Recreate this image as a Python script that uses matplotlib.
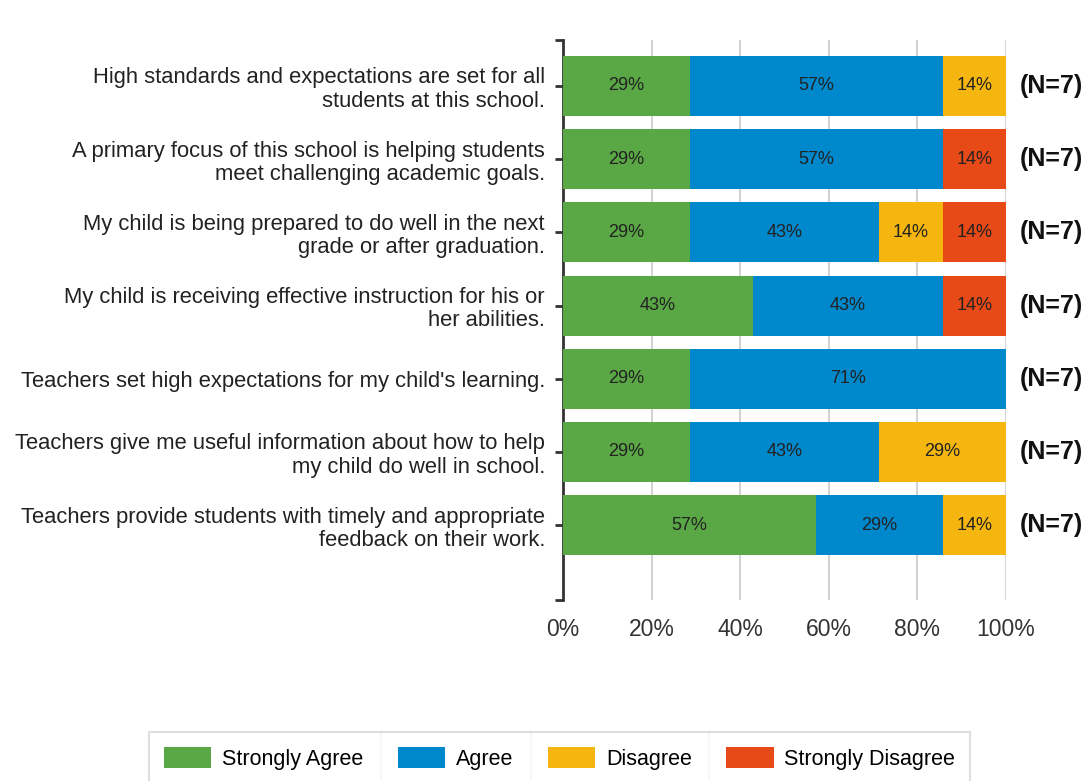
import numpy as np
import matplotlib.pyplot as plt
from matplotlib.lines import Line2D

#%% data

questions = [
    "High standards and expectations are set for all\nstudents at this school.",
    "A primary focus of this school is helping students\nmeet challenging academic goals.",
    "My child is being prepared to do well in the next\ngrade or after graduation.",
    "My child is receiving effective instruction for his or\nher abilities.",
    "Teachers set high expectations for my child's learning.",
    "Teachers give me useful information about how to help\nmy child do well in school.",
    "Teachers provide students with timely and appropriate\nfeedback on their work.",
]
categories = ["Strongly Agree", "Agree", "Disagree", "Strongly Disagree"]
colors = ["#5aa745", "#0088cc", "#f5b70f", "#e84a17"]

# counts of responses per question
strongly_agree = [2, 2, 2, 3, 2, 2, 4]
agree = [4, 4, 3, 3, 5, 3, 2]
disagree = [1, 0, 1, 0, 0, 2, 1]
strongly_disagree = [0, 1, 1, 1, 0, 0, 0]
n_resp = [7, 7, 7, 7, 7, 7, 7]

counts = np.array([strongly_agree, agree, disagree, strongly_disagree], dtype=float)
pct = counts / np.array(n_resp) * 100

#%% plot

plt.rcParams['font.family'] = ['Liberation Sans', 'DejaVu Sans']

fig = plt.figure(figsize=(10.91, 7.81), dpi=100)
ax = fig.add_axes([0.516, 0.232, 0.406, 0.717])

y = np.arange(len(questions))
left = np.zeros(len(questions))
for i, cat in enumerate(categories):
    ax.barh(y, pct[i], left=left, height=0.82, color=colors[i], label=cat, zorder=3)
    for j in range(len(questions)):
        if pct[i, j] > 0:
            ax.text(left[j] + pct[i, j] / 2, y[j], "%d%%" % round(pct[i, j]),
                    ha="center", va="center", fontsize=13, color="#222222", zorder=4)
    left += pct[i]

for j in range(len(questions)):
    ax.text(103.2, y[j], "(N=%d)" % n_resp[j], ha="left", va="center",
            fontsize=18, fontweight="bold", color="#111111", clip_on=False)

ax.set_xlim(0, 100)
ax.set_ylim(7.02, -0.63)
ax.set_yticks(y)
ax.set_yticklabels(questions, fontsize=15.8, color="#222222", linespacing=1.15)
ax.set_yticks([7.02, -0.63], minor=True)
ax.set_xticks([0, 20, 40, 60, 80, 100])
ax.set_xticklabels(["0%", "20%", "40%", "60%", "80%", "100%"], fontsize=16.5, color="#333333")
ax.tick_params(axis="x", length=0, pad=13)
ax.tick_params(axis="y", which="both", length=6, width=2, color="#333333", pad=7)

ax.grid(axis="x", color="#d3d3d3", linewidth=1.5, zorder=0)
for s in ["top", "right", "bottom"]:
    ax.spines[s].set_visible(False)
ax.spines["left"].set_linewidth(2)
ax.spines["left"].set_color("#333333")

leg = fig.legend(loc="upper center", bbox_to_anchor=(0.513, 0.076), ncol=4,
                 fontsize=15.5, frameon=True, fancybox=False, edgecolor="#d8d8d8",
                 handlelength=2.2, handleheight=1.1, columnspacing=1.6,
                 borderpad=0.7, handletextpad=0.5)
leg.get_frame().set_linewidth(1.5)

# vertical separators between legend entries
fig.canvas.draw()
r = fig.canvas.get_renderer()
texts = leg.get_texts()
handles = leg.legend_handles
fb = leg.get_frame().get_window_extent(r)
for k in range(1, len(texts)):
    x0 = texts[k - 1].get_window_extent(r).x1
    x1 = handles[k].get_window_extent(r).x0
    xm = (x0 + x1) / 2 / fig.bbox.width
    fig.add_artist(Line2D([xm, xm], [fb.y0 / fig.bbox.height, fb.y1 / fig.bbox.height],
                          color="#d8d8d8", linewidth=1.5, transform=fig.transFigure))

fig.savefig("out.png", dpi=100)
